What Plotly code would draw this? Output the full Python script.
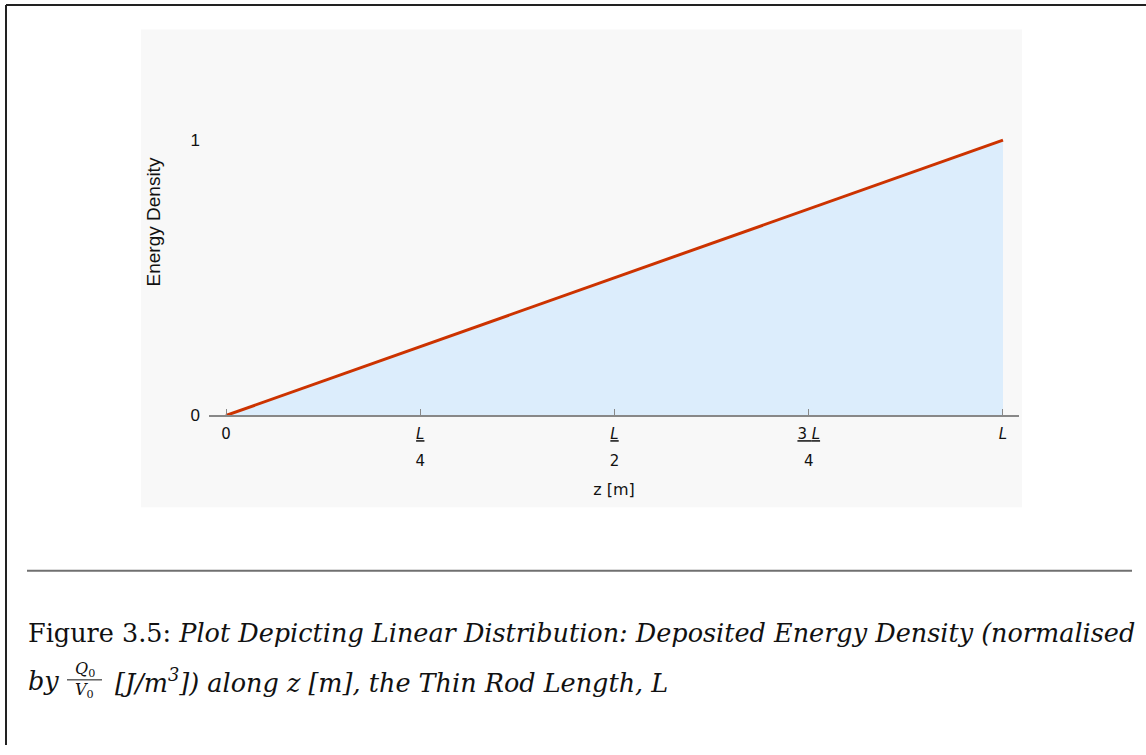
import plotly.graph_objects as go

# Rod position (fraction of L) and normalised deposited energy density
z_pos = [0.0, 0.25, 0.5, 0.75, 1.0]
energy_density = [0.0, 0.25, 0.5, 0.75, 1.0]

# Tick labels for the z axis: numerators on one axis, denominators on another
x_tick_vals = [0.0, 0.25, 0.5, 0.75, 1.0]
x_tick_numer = ["0", "<u><i>L</i></u>", "<u><i>L</i></u>", "<u>3 <i>L</i></u>", "<i>L</i>"]
x_tick_denom = ["", "4", "2", "4", ""]
y_tick_vals = [0, 1]
y_tick_text = ["0", "1"]

W, H = 1146, 755


def px(x):
    return x / W


def py(y):
    return 1 - y / H


fig = go.Figure()

fig.add_trace(go.Scatter(
    x=z_pos, y=energy_density, mode="lines",
    line=dict(color="#cc3300", width=3),
    fill="tozeroy", fillcolor="#dcedfc",
    hoverinfo="skip", showlegend=False,
))

# invisible trace to activate the denominator axis
fig.add_trace(go.Scatter(
    x=z_pos, y=energy_density, xaxis="x2", mode="lines",
    line=dict(width=0, color="rgba(0,0,0,0)"),
    hoverinfo="skip", showlegend=False,
))

x_range = [-0.0219, 1.0206]
x_dom = [px(209), px(1019)]
y_dom = [py(421), py(29)]

fig.update_layout(
    width=W, height=H,
    margin=dict(l=0, r=0, t=0, b=0),
    paper_bgcolor="white",
    plot_bgcolor="rgba(0,0,0,0)",
    xaxis=dict(
        domain=x_dom, range=x_range, anchor="y",
        tickmode="array", tickvals=x_tick_vals, ticktext=x_tick_numer,
        ticks="inside", ticklen=7, tickcolor="#888", tickwidth=1,
        showline=True, linecolor="#888", linewidth=1.5,
        showgrid=False, zeroline=False,
        tickfont=dict(family="DejaVu Sans", size=15, color="#111"),
        ticklabelstandoff=4,
        title=dict(text="z [m]", font=dict(family="DejaVu Sans", size=16, color="#111"), standoff=42),
    ),
    xaxis2=dict(
        domain=x_dom, range=x_range, overlaying="x", anchor="free", position=py(421), side="bottom",
        tickmode="array", tickvals=x_tick_vals, ticktext=x_tick_denom,
        ticks="", showline=False, showgrid=False, zeroline=False,
        tickfont=dict(family="DejaVu Sans", size=15, color="#111"),
        ticklabelstandoff=35,
    ),
    yaxis=dict(
        domain=y_dom, range=[0, 1.405],
        tickmode="array", tickvals=y_tick_vals, ticktext=y_tick_text,
        ticks="", showline=False, showgrid=False, zeroline=False,
        tickfont=dict(family="Liberation Sans", size=17, color="#111"),
        ticklabelstandoff=8,
        title=dict(text="Energy Density", font=dict(family="Liberation Sans", size=19, color="#111"), standoff=24),
    ),
)

shapes = [
    # light panel behind the chart
    dict(type="rect", xref="paper", yref="paper", x0=px(141), x1=px(1022), y0=py(514), y1=py(30),
         fillcolor="#f8f8f8", line=dict(width=0), layer="below"),
    # page frame
    dict(type="line", xref="paper", yref="paper", x0=px(6), x1=1, y0=py(5), y1=py(5),
         line=dict(color="#222", width=2)),
    dict(type="line", xref="paper", yref="paper", x0=px(6), x1=px(6), y0=py(5), y1=0,
         line=dict(color="#222", width=2)),
    # caption rule
    dict(type="line", xref="paper", yref="paper", x0=px(27), x1=px(1132), y0=py(578.5), y1=py(578.5),
         line=dict(color="#707070", width=2)),
    # fraction bar in the caption
    dict(type="line", xref="paper", yref="paper", x0=px(67), x1=px(102), y0=py(689), y1=py(689),
         line=dict(color="#111", width=1)),
]
fig.update_layout(shapes=shapes)

cap_font = dict(family="DejaVu Serif", size=25.5, color="#111")
small_font = dict(family="DejaVu Serif", size=16, color="#111")
annotations = [
    dict(text="Figure 3.5: <i>Plot Depicting Linear Distribution: Deposited Energy Density (normalised</i>",
         x=px(26), y=py(641), xanchor="left", yanchor="middle"),
    dict(text="<i>by</i>", x=px(26), y=py(690), xanchor="left", yanchor="middle"),
    dict(text="<i>[J/m<sup>3</sup>]) along z [m], the Thin Rod Length, L</i>",
         x=px(113), y=py(690), xanchor="left", yanchor="middle"),
]
annotations = [dict(a, xref="paper", yref="paper", showarrow=False, font=cap_font) for a in annotations]
annotations += [
    dict(text="<i>Q</i><sub>0</sub>", x=px(84.5), y=py(678), xref="paper", yref="paper",
         showarrow=False, font=small_font, xanchor="center", yanchor="middle"),
    dict(text="<i>V</i><sub>0</sub>", x=px(84.5), y=py(700), xref="paper", yref="paper",
         showarrow=False, font=small_font, xanchor="center", yanchor="middle"),
]
fig.update_layout(annotations=annotations)

fig.write_html("out.html")
